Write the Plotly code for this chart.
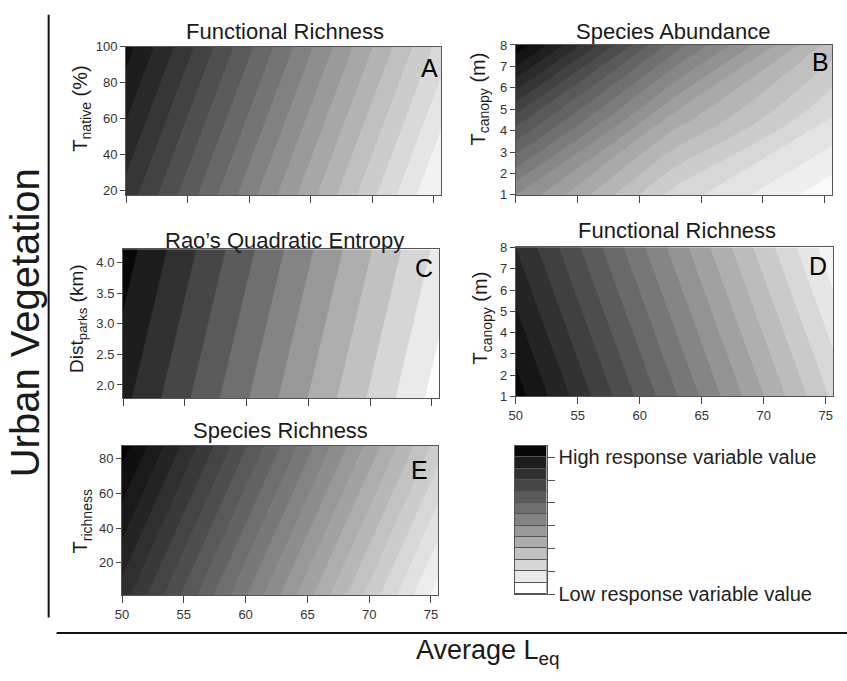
import plotly.graph_objects as go
from plotly.colors import sample_colorscale

W, H = 847, 681

# ---------------- data ----------------
leq_grid = [50, 75.6]                 # Average Leq extent of every panel
leq_ticks = [50, 55, 60, 65, 70, 75]

# Panel A  Functional Richness vs T_native (%)
A_y = [17.3, 100]
A_z = [[15.6, -0.25], [18.4, 2.55]]   # response (band units), rows = y
A_levels = 18
A_yticks = [20, 40, 60, 80, 100]

# Panel B  Species Abundance vs T_canopy (m)
B_x = [50, 62.8, 75.6]
B_y = [1, 4.5, 8]
B_z = [[10.0, 3.6, 0.3], [15.5, 7.5, 2.9], [21.8, 12.5, 5.5]]
B_levels = 21
B_yticks = [1, 2, 3, 4, 5, 6, 7, 8]

# Panel C  Rao's Quadratic Entropy vs Dist_parks (km)
C_y = [1.78, 4.22]
C_z = [[11.3, 0.5], [12.5, 1.7]]
C_levels = 12
C_yticks = [2.0, 2.5, 3.0, 3.5, 4.0]

# Panel D  Functional Richness vs T_canopy (m)
D_y = [1, 8]
D_z = [[17.5, 2.8], [15.0, 0.3]]
D_levels = 17
D_yticks = [1, 2, 3, 4, 5, 6, 7, 8]

# Panel E  Species Richness vs T_richness
E_y = [1.5, 87.3]
E_z = [[19.5, 0.5], [23.5, 4.5]]
E_levels = 23
E_yticks = [20, 40, 60, 80]

legend_bands = [1] * 13
legend_labels = ["Low response variable value", "", "", "", "", "", "High response variable value"]

FONT = "Arial, Liberation Sans, Helvetica, sans-serif"


def dx(a, b):
    return [a / W, b / W]


def dy(top, bottom):
    return [1 - bottom / H, 1 - top / H]


panels = [
    ("A", leq_grid, A_y, A_z, A_levels, "#f2f2f2", "#101010", (120, 41, 438, 193), A_yticks, False, None),
    ("B", B_x, B_y, B_z, B_levels, "#fafafa", "#080808", (513, 39, 832, 193), B_yticks, False, None),
    ("C", leq_grid, C_y, C_z, C_levels, "#ffffff", "#080808", (117, 249, 436, 402), C_yticks, False, ".1f"),
    ("D", leq_grid, D_y, D_z, D_levels, "#f4f4f4", "#080808", (513, 247, 833, 400), D_yticks, True, None),
    ("E", leq_grid, E_y, E_z, E_levels, "#f6f6f6", "#050505", (116, 451, 435, 604), E_yticks, True, None),
]

fig = go.Figure()
layout = {}
axis_line = "#555555"
tickfont = dict(family=FONT, size=13, color="#333333")

for i, (name, xs, ys, z, nlev, light, dark, rect, yt, showx, yfmt) in enumerate(panels):
    n = "" if i == 0 else str(i + 1)
    l, t, r, b = rect
    fig.add_trace(go.Contour(
        x=xs, y=ys, z=z,
        xaxis="x" + n, yaxis="y" + n,
        autocontour=False,
        contours=dict(start=1, end=nlev, size=1, coloring="fill", showlines=False),
        line=dict(width=0),
        colorscale=[[0, light], [1, dark]],
        showscale=False, hoverinfo="skip",
    ))
    layout["xaxis" + n] = dict(
        domain=dx(l, r), anchor="y" + n, range=[xs[0], xs[-1]],
        tickvals=leq_ticks, showticklabels=showx, ticks="outside", ticklen=7,
        tickcolor="#444", tickwidth=1, showline=True, linecolor=axis_line, linewidth=1,
        mirror=True, showgrid=False, zeroline=False, tickfont=tickfont,
    )
    yax = dict(
        domain=dy(t, b), anchor="x" + n, range=[ys[0], ys[-1]],
        tickvals=yt, ticks="outside", ticklen=5, tickcolor="#444", tickwidth=1,
        showline=True, linecolor=axis_line, linewidth=1, mirror=True,
        showgrid=False, zeroline=False, tickfont=tickfont,
    )
    if yfmt:
        yax["tickformat"] = yfmt
    layout["yaxis" + n] = yax

# legend colour key drawn as stacked bars
key_colors = sample_colorscale([[0, "#ffffff"], [1, "#080808"]], [k / 12 for k in range(13)])
for k, v in enumerate(legend_bands):
    fig.add_trace(go.Bar(
        x=[0], y=[v], width=1, xaxis="x6", yaxis="y6",
        marker=dict(color=key_colors[k], line=dict(color="#555555", width=1)),
        showlegend=False, hoverinfo="skip",
    ))
layout["xaxis6"] = dict(domain=dx(512, 544), anchor="y6", range=[-0.5, 0.5],
                        showticklabels=False, ticks="", showgrid=False, zeroline=False,
                        showline=True, linecolor=axis_line, mirror=True)
layout["yaxis6"] = dict(domain=dy(451, 603), anchor="x6", range=[0, 13], side="right",
                        tickvals=[0, 2, 4, 6, 8, 10, 12], ticktext=legend_labels,
                        ticks="outside", ticklen=7, tickcolor="#555", showgrid=False,
                        zeroline=False, showline=True, linecolor=axis_line, mirror=True,
                        tickfont=dict(family=FONT, size=20, color="#222222"))

ann = []


def add_text(text, x, y, size, angle=0, color="#1a1a1a"):
    ann.append(dict(text=text, x=x / W, y=1 - y / H, xref="paper", yref="paper",
                    xanchor="center", yanchor="middle", showarrow=False, textangle=angle,
                    font=dict(family=FONT, size=size, color=color)))


# titles
add_text("Functional Richness", 280, 25, 22)
add_text("Species Abundance", 672, 25, 22)
add_text("Rao\u2019s Quadratic Entropy", 280, 240, 22)
add_text("Functional Richness", 676, 230, 22)
add_text("Species Richness", 276, 435, 22)
# panel letters
add_text("A", 426, 63, 25, color="#000")
add_text("B", 820, 56, 25, color="#000")
add_text("C", 420, 268, 25, color="#000")
add_text("D", 818, 266, 25, color="#000")
add_text("E", 416, 476, 25, color="#000")
# y axis titles
add_text("T<sub>native</sub> (%)", 75, 104, 20, -90)
add_text("T<sub>canopy</sub> (m)", 476, 95, 20, -90)
add_text("Dist<sub>parks</sub> (km)", 71, 320, 19, -90)
add_text("T<sub>canopy</sub> (m)", 479, 320, 20, -90)
add_text("T<sub>richness</sub>", 75, 528, 20, -90)
# shared labels
add_text("Urban Vegetation", 19, 324, 40, -90)
add_text("Average L<sub>eq</sub>", 485, 663, 27)

shapes = [
    dict(type="line", xref="paper", yref="paper", x0=42 / W, x1=42 / W,
         y0=1 - 8 / H, y1=1 - 627 / H, line=dict(color="#111", width=2)),
    dict(type="line", xref="paper", yref="paper", x0=50 / W, x1=1,
         y0=1 - 643 / H, y1=1 - 643 / H, line=dict(color="#111", width=2)),
]

fig.update_layout(
    width=W, height=H, margin=dict(l=0, r=0, t=0, b=0),
    paper_bgcolor="white", plot_bgcolor="white", showlegend=False,
    barmode="stack", bargap=0, annotations=ann, shapes=shapes,
    font=dict(family=FONT),
    **layout,
)

page_fix = (
    "var gd=document.getElementById('{plot_id}');"
    "var de=document.documentElement;"
    "de.style.margin='0';de.style.padding='0';de.style.overflow='hidden';"
    "document.body.style.margin='0';document.body.style.padding='0';"
    "document.body.style.overflow='hidden';"
    "gd.style.position='absolute';gd.style.left='0px';gd.style.top='0px';"
)
fig.write_html(
    "out.html",
    config={"responsive": False, "displayModeBar": False},
    post_script=page_fix,
)
